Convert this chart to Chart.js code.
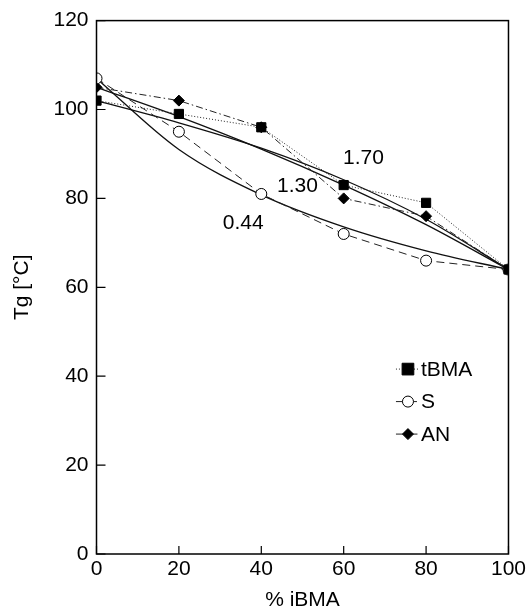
<!DOCTYPE html>
<html>
<head>
<meta charset="utf-8">
<script src="https://cdn.jsdelivr.net/npm/chart.js@4.4.1/dist/chart.umd.min.js"></script>
<style>
html,body{margin:0;padding:0;background:#fff;}
#wrap{width:529px;height:613px;position:relative;}
</style>
</head>
<body>
<div id="wrap"><canvas id="c" width="529" height="613"></canvas></div>
<script>
// ---- data ----
const iBMA = [0, 20, 40, 60, 80, 100];
const tBMA = [102, 99, 96, 83, 79, 64];
const S    = [107, 95, 81, 72, 66, 64];
const AN   = [105, 102, 96, 80, 76, 64];
// fitted curves (solid lines)
const fitTBMA = [102, 97, 91.3, 84.2, 75.3, 64];   // 1.70
const fitAN   = [105, 98.4, 91.1, 83, 74.1, 64];   // 1.30
const fitS    = [107, 91, 80.8, 73.6, 68.2, 64];   // 0.44
const fitLabels = ['1.70', '1.30', '0.44'];
const fitLabelPos = [[64.8, 89.0], [48.8, 82.7], [35.6, 74.4]];
const seriesNames = ['tBMA', 'S', 'AN'];
const xTicks = [0, 20, 40, 60, 80, 100];
const yTicks = [0, 20, 40, 60, 80, 100, 120];

const FONT = "'Liberation Sans', Arial, Helvetica, sans-serif";
Chart.defaults.font.family = FONT;
Chart.defaults.font.size = 21;
Chart.defaults.color = '#000';

const pts = (ys) => iBMA.map((x, i) => ({x: x, y: ys[i]}));

const styles = {
  tBMA: {dash: [1, 2], pointStyle: 'rect', radius: 6.5, bg: '#000', bw: 1},
  S:    {dash: [8, 5], pointStyle: 'circle', radius: 5.5, bg: '#fff', bw: 1},
  AN:   {dash: [7, 3, 1.5, 3], pointStyle: 'rectRot', radius: 5.5, bg: '#000', bw: 1}
};

function dataDs(name, ys) {
  const s = styles[name];
  return {
    label: name, data: pts(ys), order: 0,
    borderColor: '#222', borderWidth: 1, borderDash: s.dash,
    pointStyle: s.pointStyle, pointRadius: s.radius,
    pointBackgroundColor: s.bg, pointBorderColor: '#000', pointBorderWidth: s.bw,
    showLine: true, fill: false, tension: 0
  };
}
function fitDs(label, ys) {
  return {
    label: label, data: pts(ys), order: 1,
    borderColor: '#111', borderWidth: 1.3, pointRadius: 0,
    showLine: true, fill: false, cubicInterpolationMode: 'monotone'
  };
}

function drawMarker(ctx, style, r, x, y, bg) {
  ctx.save();
  ctx.fillStyle = bg; ctx.strokeStyle = '#000'; ctx.lineWidth = 1;
  ctx.beginPath();
  if (style === 'rect') {
    ctx.rect(x - r * 0.9, y - r * 0.9, r * 1.8, r * 1.8);
  } else if (style === 'circle') {
    ctx.arc(x, y, r, 0, Math.PI * 2);
  } else {
    ctx.moveTo(x, y - r); ctx.lineTo(x + r, y); ctx.lineTo(x, y + r); ctx.lineTo(x - r, y); ctx.closePath();
  }
  ctx.fill(); ctx.stroke();
  ctx.restore();
}

const decor = {
  id: 'decor',
  afterDraw(chart) {
    const ctx = chart.ctx, a = chart.chartArea;
    const xs = chart.scales.x, ys = chart.scales.y;
    ctx.save();
    // frame
    ctx.strokeStyle = '#000'; ctx.lineWidth = 1.5;
    ctx.strokeRect(a.left, a.top, a.right - a.left, a.bottom - a.top);
    // inward ticks
    ctx.lineWidth = 1.2;
    ctx.beginPath();
    yTicks.forEach(v => { const p = ys.getPixelForValue(v); ctx.moveTo(a.left, p); ctx.lineTo(a.left + 9, p); });
    xTicks.forEach(v => { const p = xs.getPixelForValue(v); ctx.moveTo(p, a.bottom); ctx.lineTo(p, a.bottom - 8); });
    ctx.stroke();
    // fit labels
    ctx.fillStyle = '#000'; ctx.font = '21px ' + FONT;
    ctx.textAlign = 'center'; ctx.textBaseline = 'middle';
    fitLabels.forEach((t, i) => {
      ctx.fillText(t, xs.getPixelForValue(fitLabelPos[i][0]), ys.getPixelForValue(fitLabelPos[i][1]));
    });
    // legend
    const lx = xs.getPixelForValue(75.6), ly0 = ys.getPixelForValue(41.6), step = 32.5;
    seriesNames.forEach((n, i) => {
      const s = styles[n]; const y = ly0 + i * step;
      ctx.save();
      ctx.strokeStyle = '#222'; ctx.lineWidth = 1; ctx.setLineDash(s.dash);
      ctx.beginPath(); ctx.moveTo(lx - 12, y); ctx.lineTo(lx + 12, y); ctx.stroke();
      ctx.restore();
      drawMarker(ctx, s.pointStyle, s.radius, lx, y, s.bg);
      ctx.textAlign = 'left';
      ctx.fillText(n, lx + 13, y + 1);
    });
    ctx.restore();
  }
};

new Chart(document.getElementById('c'), {
  type: 'scatter',
  data: {
    datasets: [
      dataDs('tBMA', tBMA), dataDs('S', S), dataDs('AN', AN),
      fitDs('fit 1.70', fitTBMA), fitDs('fit 1.30', fitAN), fitDs('fit 0.44', fitS)
    ]
  },
  options: {
    responsive: false, animation: false,
    layout: {padding: {top: 20, right: 19.5, left: 0, bottom: 0}},
    plugins: {legend: {display: false}, tooltip: {enabled: false}},
    scales: {
      x: {
        type: 'linear', min: 0, max: 100,
        ticks: {stepSize: 20, padding: 3, font: {size: 21}},
        grid: {display: false, drawTicks: false},
        border: {display: false},
        title: {display: true, text: '% iBMA', font: {size: 21}, padding: {top: 0, bottom: 0}},
        afterFit(s) { s.height = 59; }
      },
      y: {
        type: 'linear', min: 0, max: 120,
        ticks: {stepSize: 20, padding: 8, font: {size: 21}},
        grid: {display: false, drawTicks: false},
        border: {display: false},
        title: {display: true, text: 'Tg [°C]', font: {size: 21}, padding: {top: 10, bottom: 0}},
        afterFit(s) { s.width = 96.5; }
      }
    }
  },
  plugins: [decor]
});
</script>
</body>
</html>
